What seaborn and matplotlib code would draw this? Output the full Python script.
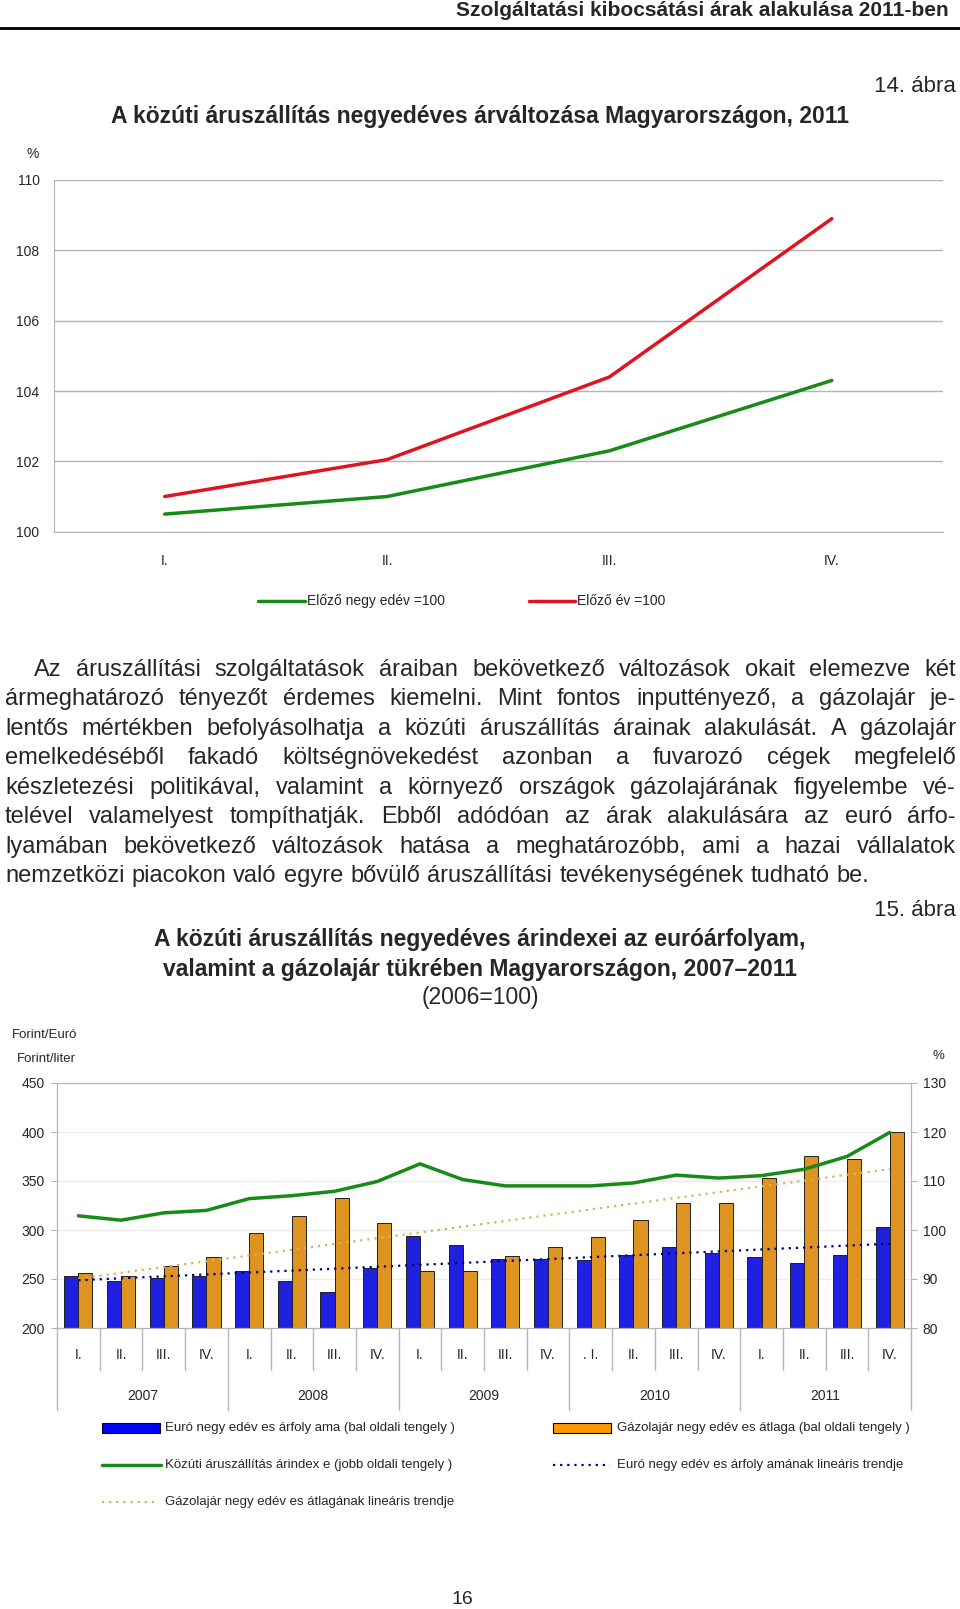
import numpy as np
import pandas as pd
import matplotlib
matplotlib.use("Agg")
import matplotlib.pyplot as plt
from matplotlib.lines import Line2D
from matplotlib.patches import Rectangle
import seaborn as sns

# --- chart 14 data ---
quarters = ["I.", "II.", "III.", "IV."]
prev_quarter = [100.5, 101.0, 102.3, 104.3]
prev_year = [101.0, 102.05, 104.4, 108.9]

# --- chart 15 data ---
years = ["2007", "2008", "2009", "2010", "2011"]
q_labels = ["I.", "II.", "III.", "IV.", "I.", "II.", "III.", "IV.",
            "I.", "II.", "III.", "IV.", ". I.", "II.", "III.", "IV.",
            "I.", "II.", "III.", "IV."]
euro = [252.7, 248, 251, 253, 258.5, 248, 236.7, 261.6, 293.9, 285,
        270.7, 270.7, 269, 274.8, 282.3, 276.2, 272.1, 266, 274.8, 303]
diesel = [255.8, 252.7, 263.3, 272.1, 297, 314.3, 332.3, 307.1, 258.5, 258.5,
          273.5, 282.3, 292.5, 310.2, 327.9, 327.9, 353.1, 375.2, 372.4, 399.7]
road_index = [102.9, 102.0, 103.5, 104.0, 106.4, 107.0, 107.9, 109.9, 113.5, 110.3,
              109.0, 109.0, 109.0, 109.6, 111.2, 110.6, 111.1, 112.4, 115.0, 119.9]

paragraph = [
    "Az áruszállítási szolgáltatások áraiban bekövetkező változások okait elemezve két",
    "ármeghatározó tényezőt érdemes kiemelni. Mint fontos inputtényező, a gázolajár je-",
    "lentős mértékben befolyásolhatja a közúti áruszállítás árainak alakulását. A gázolajár",
    "emelkedéséből fakadó költségnövekedést azonban a fuvarozó cégek megfelelő",
    "készletezési politikával, valamint a környező országok gázolajárának figyelembe vé-",
    "telével valamelyest tompíthatják. Ebből adódóan az árak alakulására az euró árfo-",
    "lyamában bekövetkező változások hatása a meghatározóbb, ami a hazai vállalatok",
    "nemzetközi piacokon való egyre bővülő áruszállítási tevékenységének tudható be.",
]

sns.set_style("white")
plt.rcParams["font.family"] = ["Liberation Sans", "DejaVu Sans"]

W, H = 960, 1609
fig = plt.figure(figsize=(W / 100, H / 100), dpi=100)


def fx(x):
    return x / W


def fy(y):
    return 1 - y / H


def ax_rect(x0, y0, x1, y1):
    return [fx(x0), fy(y1), fx(x1) - fx(x0), (y1 - y0) / H]


GREEN = "#178a17"
RED = "#e0141e"
GRID = "#b4b4b4"

# header
fig.text(fx(949), fy(11), "Szolgáltatási kibocsátási árak alakulása 2011-ben",
         ha="right", va="center", fontsize=15, fontweight="bold")
fig.add_artist(Line2D([0, 1], [fy(28), fy(28)], color="black", lw=2, transform=fig.transFigure))

fig.text(fx(956), fy(87), "14. ábra", ha="right", va="center", fontsize=16)
fig.text(fx(480), fy(116), "A közúti áruszállítás negyedéves árváltozása Magyarországon, 2011",
         ha="center", va="center", fontsize=16.5, fontweight="bold")

# ---------------- chart 14 ----------------
ax1 = fig.add_axes(ax_rect(53.5, 180, 943, 531.7))
df1 = pd.DataFrame({
    "pos": list(range(4)) * 2,
    "value": prev_quarter + prev_year,
    "series": ["Előző negyedév=100"] * 4 + ["Előző év=100"] * 4,
})
sns.lineplot(data=df1, x="pos", y="value", hue="series", palette=[GREEN, RED],
             lw=2.5, legend=False, ax=ax1)
ax1.set_xlim(-0.5, 3.5)
ax1.set_ylim(100, 110)
ax1.set_yticks(range(100, 111, 2))
ax1.set_xticks(range(4))
ax1.set_xticklabels(quarters)
ax1.set_xticks(np.arange(-0.5, 4, 1), minor=True)
ax1.tick_params(axis="x", which="major", length=0, pad=16, labelsize=10)
ax1.tick_params(axis="x", which="minor", length=5, color=GRID, width=1, direction="out")
ax1.tick_params(axis="y", length=4, color=GRID, labelsize=10, pad=6, direction="out")
ax1.grid(axis="y", color=GRID, lw=1)
ax1.set_axisbelow(True)
ax1.set_xlabel("")
ax1.set_ylabel("")
for s in ["top", "right"]:
    ax1.spines[s].set_visible(False)
for s in ["left", "bottom"]:
    ax1.spines[s].set_color(GRID)
fig.text(fx(33), fy(154), "%", ha="center", va="center", fontsize=10)

# legend 14
fig.add_artist(Line2D([fx(258), fx(305)], [fy(601), fy(601)], color=GREEN, lw=2.5, transform=fig.transFigure))
fig.text(fx(307), fy(601), "Előző negy edév =100", ha="left", va="center", fontsize=10)
fig.add_artist(Line2D([fx(529), fx(575)], [fy(601), fy(601)], color=RED, lw=2.5, transform=fig.transFigure))
fig.text(fx(577), fy(601), "Előző év =100", ha="left", va="center", fontsize=10)

# ---------------- paragraph (justified, last line left) ----------------
renderer = fig.canvas.get_renderer()
PFS = 17
line_y = [669, 698, 728, 757, 787, 816, 846, 875]
for i, (line, yc) in enumerate(zip(paragraph, line_y)):
    words = line.split(" ")
    x0 = 34 if i == 0 else 5
    texts = [fig.text(0, fy(yc + 7), w, ha="left", va="baseline", fontsize=PFS) for w in words]
    widths = [t.get_window_extent(renderer).width for t in texts]
    if i == len(paragraph) - 1:
        gap = PFS * 100 / 72 * 0.30
    else:
        gap = (956 - x0 - sum(widths)) / (len(words) - 1)
    x = x0
    for t, w in zip(texts, widths):
        t.set_x(fx(x))
        x += w + gap

# ---------------- chart 15 titles ----------------
fig.text(fx(956), fy(911), "15. ábra", ha="right", va="center", fontsize=16)
fig.text(fx(480), fy(939.5), "A közúti áruszállítás negyedéves árindexei az euróárfolyam,",
         ha="center", va="center", fontsize=16.5, fontweight="bold")
fig.text(fx(480), fy(969), "valamint a gázolajár tükrében Magyarországon, 2007–2011",
         ha="center", va="center", fontsize=16.5, fontweight="bold")
fig.text(fx(480), fy(998), "(2006=100)", ha="center", va="center", fontsize=16.5)
fig.text(fx(12), fy(1035), "Forint/Euró", ha="left", va="center", fontsize=9.5)
fig.text(fx(17), fy(1059), "Forint/liter", ha="left", va="center", fontsize=9.5)
fig.text(fx(938), fy(1056), "%", ha="center", va="center", fontsize=9.5)

# ---------------- chart 15 ----------------
ax2 = fig.add_axes(ax_rect(57, 1083, 911, 1328))
keys = [f"{y} {q}" for y in years for q in ["I", "II", "III", "IV"]]
df2 = pd.DataFrame({
    "q": keys * 2,
    "value": euro + diesel,
    "series": ["Euró negyedéves árfolyama"] * 20 + ["Gázolajár negyedéves átlaga"] * 20,
})
sns.barplot(data=df2, x="q", y="value", hue="series", palette=["#0000ff", "#ff9900"],
            width=0.66, edgecolor="#202020", linewidth=0.7, legend=False, ax=ax2)
xs = np.arange(20)
trend_euro = np.polyval(np.polyfit(xs, euro, 1), xs)
trend_diesel = np.polyval(np.polyfit(xs, diesel, 1), xs)
sns.lineplot(x=xs, y=trend_diesel, color="#d9b35a", lw=1.6, ls=(0, (1, 2.2)), ax=ax2)
sns.lineplot(x=xs, y=trend_euro, color="#000080", lw=1.6, ls=(0, (1, 2.2)), ax=ax2)
ax2.set_xlim(-0.5, 19.5)
ax2.set_ylim(200, 450)
ax2.set_yticks(range(200, 451, 50))
ax2.set_xticks([])
ax2.set_xlabel("")
ax2.set_ylabel("")
ax2.grid(axis="y", color="#ececec", lw=1)
ax2.set_axisbelow(True)
ax2.tick_params(axis="y", length=4, color=GRID, labelsize=10, pad=5, direction="out")
for s in ax2.spines.values():
    s.set_color(GRID)

axr = ax2.twinx()
sns.lineplot(x=xs, y=road_index, color=GREEN, lw=2.5, ax=axr)
axr.set_ylim(80, 130)
axr.set_yticks(range(80, 131, 10))
axr.set_ylabel("")
axr.tick_params(axis="y", length=4, color=GRID, labelsize=10, pad=4.5, direction="out")
for s in axr.spines.values():
    s.set_color(GRID)
ax2.spines["top"].set_color("#a8a8a8")

# category axis below chart 15
tr = ax2.get_xaxis_transform()
for b in np.arange(-0.5, 20, 1):
    long_sep = (b + 0.5) % 4 == 0
    ax2.add_line(Line2D([b, b], [0, -0.335 if long_sep else -0.171], color=GRID, lw=1,
                        transform=tr, clip_on=False))
for i, lab in enumerate(q_labels):
    ax2.text(i, -0.11, lab, transform=tr, ha="center", va="center", fontsize=10)
for j, yr in enumerate(years):
    ax2.text(j * 4 + 1.5, -0.278, yr, transform=tr, ha="center", va="center", fontsize=10)

# legend 15
lf = 9.5
fig.add_artist(Rectangle((fx(101.5), fy(1433)), fx(160) - fx(101.5), 10 / H, facecolor="#0000ff",
                         edgecolor="black", lw=0.8, transform=fig.transFigure))
fig.text(fx(165), fy(1428), "Euró negy edév es árfoly ama (bal oldali tengely )", ha="left", va="center", fontsize=lf)
fig.add_artist(Rectangle((fx(552.5), fy(1433)), fx(611) - fx(552.5), 10 / H, facecolor="#ff9900",
                         edgecolor="black", lw=0.8, transform=fig.transFigure))
fig.text(fx(617), fy(1428), "Gázolajár negy edév es átlaga (bal oldali tengely )", ha="left", va="center", fontsize=lf)
fig.add_artist(Line2D([fx(101.5), fx(161)], [fy(1465), fy(1465)], color=GREEN, lw=2.5, transform=fig.transFigure))
fig.text(fx(165), fy(1465), "Közúti áruszállítás árindex e (jobb oldali tengely )", ha="left", va="center", fontsize=lf)
fig.add_artist(Line2D([fx(552.5), fx(610)], [fy(1465), fy(1465)], color="#000080", lw=1.6,
                      ls=(0, (1, 2.2)), transform=fig.transFigure))
fig.text(fx(617), fy(1465), "Euró negy edév es árfoly amának lineáris trendje", ha="left", va="center", fontsize=lf)
fig.add_artist(Line2D([fx(101.5), fx(157)], [fy(1502), fy(1502)], color="#d9b35a", lw=1.6,
                      ls=(0, (1, 2.2)), transform=fig.transFigure))
fig.text(fx(165), fy(1502), "Gázolajár negy edév es átlagának lineáris trendje", ha="left", va="center", fontsize=lf)

fig.text(fx(462), fy(1599), "16", ha="center", va="center", fontsize=14)

fig.savefig("out.png", dpi=100)
